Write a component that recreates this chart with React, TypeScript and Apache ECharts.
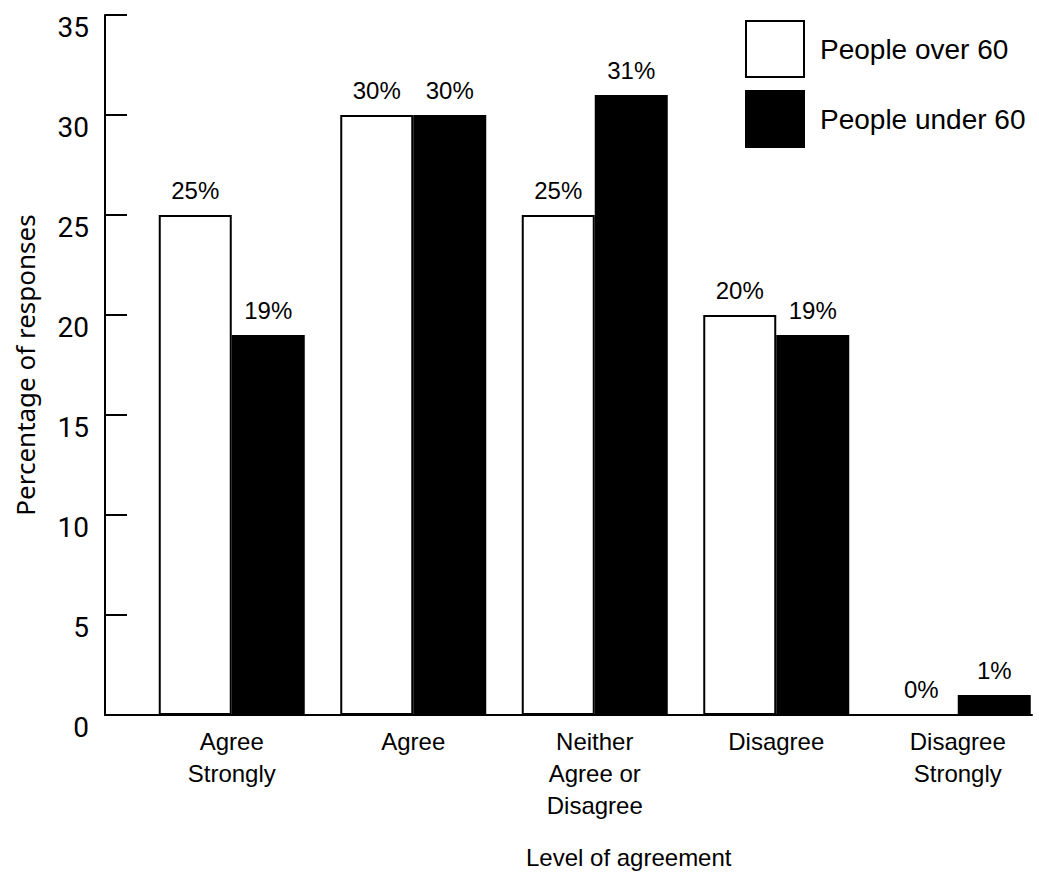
import { useEffect, useRef } from "react";
import * as echarts from "echarts";

// Survey responses by level of agreement, in percent
const categories = [
  "Agree\nStrongly",
  "Agree",
  "Neither\nAgree or\nDisagree",
  "Disagree",
  "Disagree\nStrongly",
];
const peopleOver60 = [25, 30, 25, 20, 0];
const peopleUnder60 = [19, 30, 31, 19, 1];
const seriesNames = ["People over 60", "People under 60"];
const yMin = 0;
const yMax = 35;
const yStep = 5;

const NARROW = '"Liberation Sans Narrow", "Arial Narrow", "Liberation Sans", Arial, sans-serif';
const REGULAR = '"Liberation Sans", Arial, sans-serif';

export default function App() {
  const ref = useRef<HTMLDivElement>(null);

  useEffect(() => {
    if (!ref.current) return;
    const chart = echarts.init(ref.current, undefined, { renderer: "svg" });

    const valueLabel = {
      show: true,
      position: "top" as const,
      distance: 13,
      formatter: "{c}%",
      fontFamily: NARROW,
      fontSize: 24,
      color: "#000",
    };

    chart.setOption({
      animation: false,
      backgroundColor: "#fff",
      textStyle: { fontFamily: REGULAR, color: "#000" },
      legend: {
        orient: "vertical",
        left: 745,
        top: 20,
        padding: 0,
        itemWidth: 58,
        itemHeight: 56,
        itemGap: 12,
        icon: "rect",
        data: seriesNames,
        textStyle: {
          fontFamily: REGULAR,
          fontSize: 28,
          color: "#000",
          padding: [0, 0, 0, 11],
        },
      },
      grid: [
        // bars; the last category reaches past the right edge of the frame
        { left: 141, width: 907.5, top: 15, bottom: 159, outerBoundsMode: "none", containLabel: false },
        // axis frame
        { left: 105, right: 7, top: 15, bottom: 159, outerBoundsMode: "none", containLabel: false },
      ],
      xAxis: [
        {
          type: "category",
          gridIndex: 0,
          data: categories,
          axisLine: { show: false },
          axisTick: { show: false },
          axisLabel: {
            fontFamily: NARROW,
            fontSize: 24,
            lineHeight: 32,
            color: "#000",
            margin: 10,
            interval: 0,
          },
          name: "Level of agreement",
          nameLocation: "middle",
          nameGap: 130,
          nameTextStyle: {
            fontFamily: NARROW,
            fontSize: 24,
            color: "#000",
            padding: [0, 0, 0, 68],
          },
        },
        {
          type: "value",
          gridIndex: 1,
          min: 0,
          max: 1,
          axisLine: { show: true, lineStyle: { color: "#000", width: 2 } },
          axisTick: { show: false },
          axisLabel: { show: false },
          splitLine: { show: false },
        },
      ],
      yAxis: [
        {
          type: "value",
          gridIndex: 0,
          min: yMin,
          max: yMax,
          show: false,
        },
        {
          type: "value",
          gridIndex: 1,
          min: yMin,
          max: yMax,
          interval: yStep,
          axisLine: { show: true, lineStyle: { color: "#000", width: 2 } },
          axisTick: {
            show: true,
            inside: true,
            length: 22,
            lineStyle: { color: "#000", width: 2 },
          },
          axisLabel: {
            fontFamily: "Roboto, sans-serif",
            fontSize: 28,
            lineHeight: 24,
            color: "#000",
            margin: 16,
            verticalAlign: "top",
          },
          splitLine: { show: false },
          name: "Percentage of responses",
          nameLocation: "middle",
          nameGap: 67,
          nameTextStyle: {
            fontFamily: '"Noto Sans", sans-serif',
            fontSize: 26,
            color: "#000",
          },
        },
      ],
      series: [
        {
          type: "bar",
          name: seriesNames[0],
          xAxisIndex: 0,
          yAxisIndex: 0,
          data: peopleOver60,
          barWidth: 73,
          barGap: "0%",
          itemStyle: { color: "#fff", borderColor: "#000", borderWidth: 2 },
          label: valueLabel,
        },
        {
          type: "bar",
          name: seriesNames[1],
          xAxisIndex: 0,
          yAxisIndex: 0,
          data: peopleUnder60,
          barWidth: 73,
          barGap: "0%",
          itemStyle: { color: "#000", borderColor: "#000", borderWidth: 2 },
          label: valueLabel,
        },
      ],
    });

    return () => chart.dispose();
  }, []);

  return (
    <div
      ref={ref}
      style={{ position: "fixed", left: 0, top: 0, width: 1039, height: 874, background: "#fff" }}
    />
  );
}
